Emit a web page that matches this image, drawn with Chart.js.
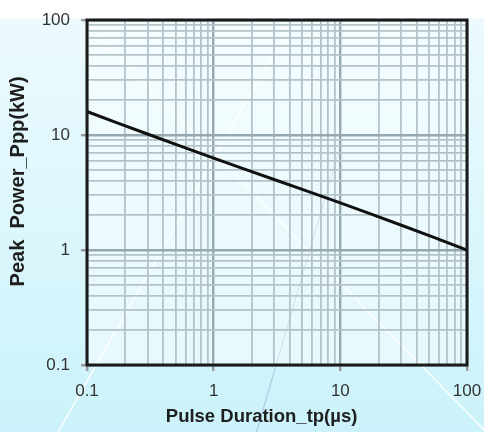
<html lang="en">
<head>
    <meta charset="UTF-8">
    <title>Peak Power vs Pulse Duration</title>
    <style>
        html, body { margin: 0; padding: 0; }
        body {
            width: 484px; height: 432px; overflow: hidden;
            background: linear-gradient(to bottom, #ffffff 0px, #ffffff 18px, #ecfafe 18px, #d9f6fc 60%, #cbf2fa 100%);
        }
        #chart-container { width: 484px; height: 432px; }
        canvas { display: block; }
    </style>
</head>
<body>
    <div id="chart-container">
        <canvas id="power-chart" width="484" height="432"></canvas>
    </div>
    <script src="https://cdn.jsdelivr.net/npm/chart.js"></script>
    <script>
        // data
        const pulseDuration = [0.1, 0.3, 1, 3, 10, 30, 100];
        const peakPower = [16, 10.2, 6.3, 4.1, 2.57, 1.65, 1.0];

        const xDecades = [0.1, 1, 10, 100];
        const yDecades = [0.1, 1, 10, 100];
        const xTickLabels = ['0.1', '1', '10', '100'];
        const yTickLabels = ['0.1', '1', '10', '100'];

        function gridValues(decades) {
            const vals = [];
            for (let i = 0; i < decades.length - 1; i++) {
                for (let m = 1; m <= 9; m++) {
                    vals.push(Number((decades[i] * m).toPrecision(3)));
                }
            }
            vals.push(decades[decades.length - 1]);
            return vals;
        }

        function isDecade(v) {
            const l = Math.log10(v);
            return Math.abs(l - Math.round(l)) < 1e-9;
        }

        function labelFor(v, decades, labels) {
            const i = decades.findIndex(d => Math.abs(d - v) < 1e-9);
            return i >= 0 ? labels[i] : '';
        }

        const FONT = "'Liberation Sans', Arial, sans-serif";

        // background decoration + plot area tint + black frame
        const framePlugin = {
            id: 'frame',
            beforeDraw(chart) {
                const ctx = chart.ctx;
                const w = chart.width, h = chart.height;
                const a = chart.chartArea;
                ctx.save();
                ctx.strokeStyle = 'rgba(255,255,255,0.95)';
                ctx.lineWidth = 1.5;
                ctx.beginPath();
                ctx.moveTo(0.12 * w, h);
                ctx.lineTo(0.605 * w, 0.046 * h);
                ctx.moveTo(0.186 * w, 0.062 * h);
                ctx.lineTo(w, 0.995 * h);
                ctx.stroke();
                ctx.strokeStyle = 'rgba(120,140,190,0.45)';
                ctx.lineWidth = 1;
                ctx.beginPath();
                ctx.moveTo(0.53 * w, h);
                ctx.lineTo(0.70 * w, 0.35 * h);
                ctx.stroke();
                ctx.fillStyle = 'rgba(255,255,255,0.45)';
                ctx.fillRect(a.left, a.top, a.right - a.left, a.bottom - a.top);
                ctx.restore();
            },
            afterDraw(chart) {
                const ctx = chart.ctx;
                const a = chart.chartArea;
                ctx.save();
                ctx.strokeStyle = '#1a1a1a';
                ctx.lineWidth = 3;
                ctx.strokeRect(a.left, a.top, a.right - a.left, a.bottom - a.top);
                ctx.restore();
            }
        };

        function axisGrid() {
            return {
                color: c => (c.tick && isDecade(c.tick.value)) ? '#97a9b0' : '#b3c3c9',
                lineWidth: c => (c.tick && isDecade(c.tick.value)) ? 2.4 : 1.8,
                drawTicks: true,
                tickLength: 6,
                tickColor: c => (c.tick && isDecade(c.tick.value)) ? '#9a9a9a' : 'rgba(0,0,0,0)'
            };
        }

        new Chart(document.getElementById('power-chart'), {
            type: 'line',
            data: {
                datasets: [{
                    data: pulseDuration.map((x, i) => ({ x: x, y: peakPower[i] })),
                    borderColor: '#111111',
                    borderWidth: 3,
                    pointRadius: 0,
                    tension: 0.3,
                    fill: false
                }]
            },
            options: {
                responsive: false,
                animation: false,
                events: [],
                layout: { padding: { left: 0, right: 17, top: 20, bottom: 0 } },
                plugins: { legend: { display: false }, tooltip: { enabled: false } },
                scales: {
                    x: {
                        type: 'logarithmic',
                        position: 'bottom',
                        min: 0.1,
                        max: 100,
                        afterBuildTicks: s => { s.ticks = gridValues(xDecades).map(v => ({ value: v })); },
                        afterFit: s => { s.height = 67; s.paddingRight = 0; s.paddingLeft = 0; },
                        grid: axisGrid(),
                        border: { display: false },
                        ticks: {
                            autoSkip: false,
                            maxRotation: 0,
                            padding: 10,
                            color: '#333333',
                            font: { family: FONT, size: 17 },
                            callback: v => labelFor(v, xDecades, xTickLabels)
                        },
                        title: {
                            display: true,
                            text: 'Pulse Duration_tp(µs)      ',
                            color: '#1e1e1e',
                            font: { family: FONT, size: 18.5, weight: 'bold' },
                            padding: { top: 0, bottom: 4 }
                        }
                    },
                    y: {
                        type: 'logarithmic',
                        min: 0.1,
                        max: 100,
                        afterBuildTicks: s => { s.ticks = gridValues(yDecades).map(v => ({ value: v })); },
                        afterFit: s => { s.width = 87; s.paddingTop = 0; s.paddingBottom = 0; },
                        grid: axisGrid(),
                        border: { display: false },
                        ticks: {
                            autoSkip: false,
                            padding: 11,
                            color: '#333333',
                            font: { family: FONT, size: 17 },
                            callback: v => labelFor(v, yDecades, yTickLabels)
                        },
                        title: {
                            display: true,
                            text: '    Peak  Power_Ppp(kW)',
                            color: '#1e1e1e',
                            font: { family: FONT, size: 20, weight: 'bold' },
                            padding: { top: 6, bottom: 0 }
                        }
                    }
                }
            },
            plugins: [framePlugin]
        });
    </script>
</body>
</html>
